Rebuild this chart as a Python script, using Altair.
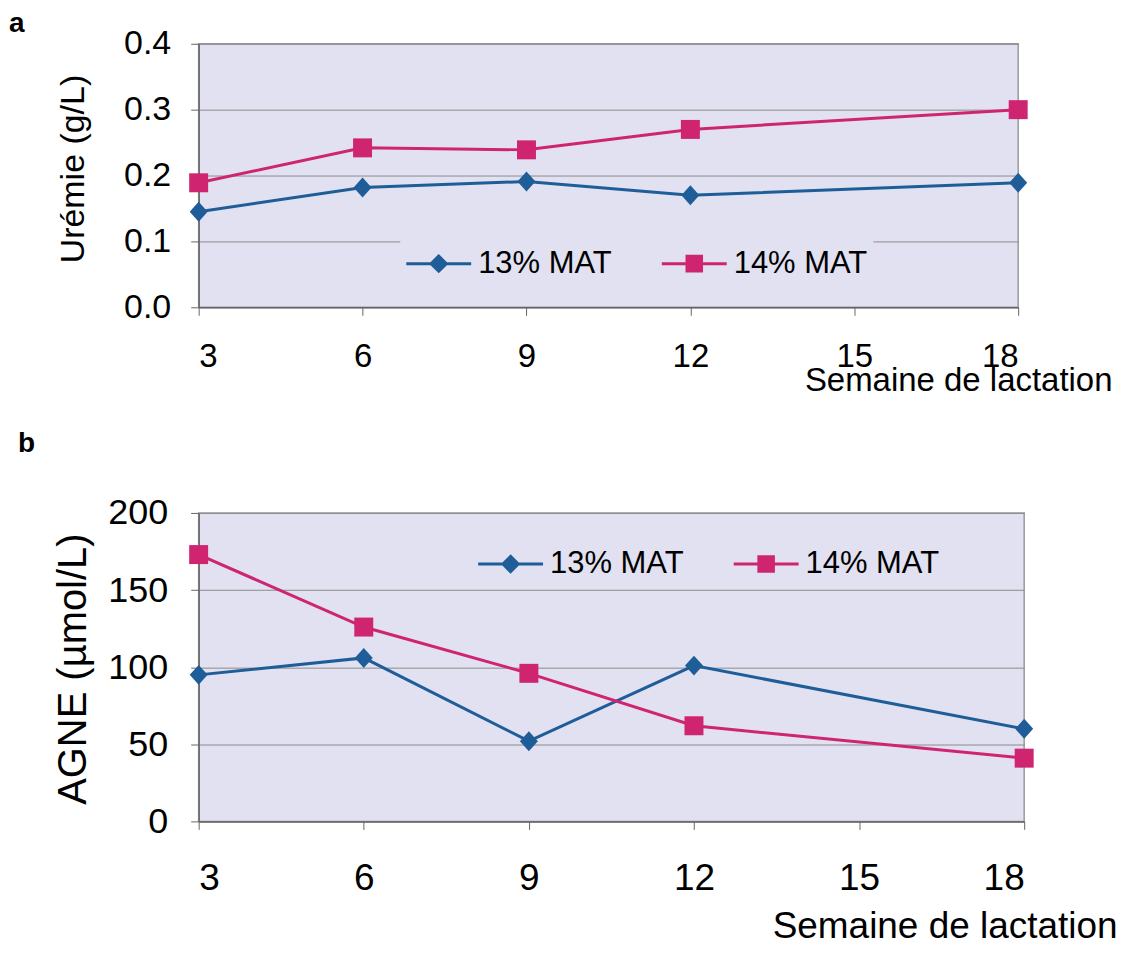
import altair as alt
import pandas as pd

# ---------------- data ----------------
weeks = [3, 6, 9, 12, 18]
series_names = ["13% MAT", "14% MAT"]
series_colors = ["#1f5d98", "#cf2470"]

uremie_13 = [0.145, 0.182, 0.191, 0.170, 0.189]
uremie_14 = [0.189, 0.242, 0.239, 0.270, 0.300]
agne_13 = [95, 106, 52, 101, 60]
agne_14 = [173, 126, 96, 62, 41]

x_ticks = [3, 6, 9, 12, 15, 18]
y_ticks_a = [0.0, 0.1, 0.2, 0.3, 0.4]
y_ticks_b = [0, 50, 100, 150, 200]

x_title = "Semaine de lactation"
y_title_a = "Urémie (g/L)"
y_title_b = "AGNE (µmol/L)"


def long_df(v13, v14):
    rows = []
    for w, a, b in zip(weeks, v13, v14):
        rows.append({"week": w, "series": series_names[0], "value": a})
        rows.append({"week": w, "series": series_names[1], "value": b})
    return pd.DataFrame(rows)


df_a = long_df(uremie_13, uremie_14)
df_b = long_df(agne_13, agne_14)

# ---------------- style ----------------
FONT = "Liberation Sans"
BG = "#e1e1f1"
GRID = "#8c8c8c"
AXIS = "#666666"

marker_paths = ["M0,-1L0.9,0L0,1L-0.9,0Z", "M-0.95,-0.95H0.95V0.95H-0.95Z"]
legend_paths = [
    "M-1,-0.046H1V0.046H-1Z M0,-0.3L0.3,0L0,0.3L-0.3,0Z",
    "M-1,-0.046H1V0.046H-1Z M-0.27,-0.27H0.27V0.27H-0.27Z",
]


def panel(df, width, height, ydomain, yticks, yfmt, ytitle, s):
    xenc = alt.X(
        "week:Q",
        scale=alt.Scale(domain=[3, 18], nice=False, zero=False),
        axis=alt.Axis(
            values=x_ticks, format="d", grid=False,
            labelFont=FONT, labelFontSize=s["xlab"], labelColor="black",
            labelPadding=s["xpad"], tickSize=8, tickColor=AXIS, tickWidth=1,
            domainColor=AXIS, domainWidth=1.5,
            title=x_title, titleFont=FONT, titleFontSize=s["xtitle"],
            titleFontWeight="normal", titleColor="black",
            titleAlign="right", titleBaseline="alphabetic",
            titleX=width + s["xtitle_dx"], titleY=s["xtitle_y"],
        ),
    )
    yenc = alt.Y(
        "value:Q",
        scale=alt.Scale(domain=ydomain, nice=False, zero=True),
        axis=alt.Axis(
            values=yticks, format=yfmt, grid=True, gridColor=GRID, gridWidth=1,
            labelFont=FONT, labelFontSize=s["ylab"], labelColor="black",
            labelPadding=s["ypad"], tickSize=8, tickColor=AXIS, tickWidth=1,
            domainColor=AXIS, domainWidth=1.5,
            title=ytitle, titleFont=FONT, titleFontSize=s["ytitle"],
            titleFontWeight="normal", titleColor="black",
            titleAngle=270, titleAlign="center", titleBaseline="alphabetic",
            titleX=s["ytitle_x"], titleY=s["ytitle_y"],
        ),
    )
    leg = dict(
        orient="none", legendX=s["legx"], legendY=s["legy"], direction="horizontal",
        title=None, fillColor=BG, padding=6, symbolSize=4225, symbolOpacity=1,
        symbolStrokeWidth=0, labelFont=FONT, labelFontSize=31, labelColor="black",
        labelOffset=7, columnPadding=50,
    )
    # legend-only layer (first, so its legend settings win): no rows are drawn,
    # the legend entries come from the explicit scale domain
    legend_layer = (
        alt.Chart(df)
        .transform_filter("false")
        .mark_point(filled=True)
        .encode(
            x=xenc, y=yenc,
            color=alt.Color("series:N",
                            scale=alt.Scale(domain=series_names, range=series_colors),
                            legend=alt.Legend(**leg)),
            shape=alt.Shape("series:N",
                            scale=alt.Scale(domain=series_names, range=legend_paths),
                            legend=alt.Legend(**leg)),
        )
    )
    lines = alt.Chart(df).mark_line(strokeWidth=3).encode(
        x=xenc, y=yenc,
        stroke=alt.Stroke("series:N",
                          scale=alt.Scale(domain=series_names, range=series_colors),
                          legend=None),
    )
    layers = [legend_layer, lines]
    for name, path in zip(series_names, marker_paths):
        layers.append(
            alt.Chart(df)
            .transform_filter(alt.datum.series == name)
            .mark_point(shape=path, size=400, filled=True, opacity=1, strokeWidth=0)
            .encode(
                x=xenc, y=yenc,
                fill=alt.Fill("series:N",
                              scale=alt.Scale(domain=series_names, range=series_colors),
                              legend=None),
            )
        )
    return alt.layer(*layers).properties(
        width=width, height=height,
        title=alt.TitleParams(
            s["label"], anchor="start", frame="group", font=FONT, fontSize=28,
            fontWeight="bold", color="black", dx=s["tdx"], offset=s["toff"],
        ),
    )


style_a = dict(xlab=33, xpad=25, xtitle=33, xtitle_dx=94, xtitle_y=83,
               ylab=34, ypad=20, ytitle=34, ytitle_x=-115, ytitle_y=125,
               legx=202, legy=181.5, label="a", tdx=-190, toff=-11)
style_b = dict(xlab=37, xpad=31, xtitle=37, xtitle_dx=93, xtitle_y=116,
               ylab=36, ypad=23, ytitle=40, ytitle_x=-113, ytitle_y=156,
               legx=274, legy=12.5, label="b", tdx=-181, toff=37)

chart_a = panel(df_a, 821, 264, [0, 0.4], y_ticks_a, ".1f", y_title_a, style_a)
chart_b = panel(df_b, 827, 309, [0, 200], y_ticks_b, "d", y_title_b, style_b)

chart = (
    alt.concat(chart_a, chart_b, columns=1, spacing=31)
    .resolve_scale(color="independent", shape="independent",
                   stroke="independent", fill="independent")
    .properties(padding={"left": 0, "top": 0, "right": 5, "bottom": 0}, background="white")
    .configure_view(fill=BG, stroke="#9a9a9a", strokeWidth=1.5)
)

chart.save("out.html", embed_options={"renderer": "svg", "actions": False})
